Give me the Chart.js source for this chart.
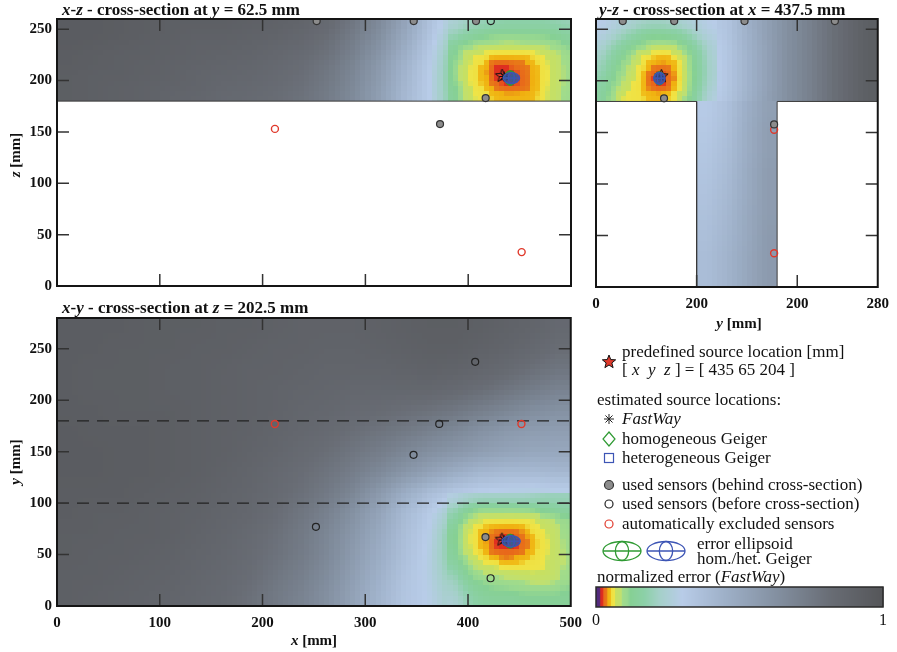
<!DOCTYPE html>
<html lang="en">
<head>
  <meta charset="UTF-8" />
  <title>Cross-sections of the localisation error</title>
  <script src="https://cdn.jsdelivr.net/npm/chart.js"></script>
  <style>
    body { margin: 0; background: #fff; }
    #wrap { position: relative; width: 897px; height: 652px; overflow: hidden;
            font-family: "Liberation Serif", "DejaVu Serif", serif; color: #111; }
    #wrap canvas { position: absolute; }
    .txt { position: absolute; white-space: nowrap; line-height: 16px; font-size: 17px; }
    .ttl { font-weight: bold; font-size: 17px; }
    .ax { font-weight: bold; font-size: 15px; transform: translate(-50%, -50%); }
    .axr { font-weight: bold; font-size: 15px; transform: translate(-50%, -50%) rotate(-90deg); }
  </style>
</head>
<body>
<div id="wrap">
  <canvas id="xzChart" width="590" height="300" style="left:0;top:0"></canvas>
  <canvas id="yzChart" width="317" height="345" style="left:580px;top:0"></canvas>
  <canvas id="xyChart" width="590" height="352" style="left:0;top:300px"></canvas>
  <canvas id="barChart" width="317" height="82" style="left:580px;top:570px"></canvas>
  <canvas id="legendCanvas" width="317" height="240" style="left:580px;top:330px"></canvas>

  <div class="txt ttl" style="left:62px;top:2px"><i>x</i>-<i>z</i> - cross-section at <i>y</i> = 62.5 mm</div>
  <div class="txt ttl" style="left:599px;top:2px"><i>y</i>-<i>z</i> - cross-section at <i>x</i> = 437.5 mm</div>
  <div class="txt ttl" style="left:62px;top:300px"><i>x</i>-<i>y</i> - cross-section at <i>z</i> = 202.5 mm</div>

  <div class="txt ax" style="left:314px;top:640px"><i>x</i> [mm]</div>
  <div class="txt ax" style="left:739px;top:323px"><i>y</i> [mm]</div>
  <div class="txt axr" style="left:15px;top:155px"><i>z</i> [mm]</div>
  <div class="txt axr" style="left:15px;top:462px"><i>y</i> [mm]</div>

  <div class="txt" style="left:622px;top:344px">predefined source location [mm]</div>
  <div class="txt" style="left:622px;top:362px">[ <i>x</i>&nbsp; <i>y</i>&nbsp; <i>z</i> ] = [ 435 65 204 ]</div>
  <div class="txt" style="left:597px;top:392px">estimated source locations:</div>
  <div class="txt" style="left:622px;top:411px"><i>FastWay</i></div>
  <div class="txt" style="left:622px;top:431px">homogeneous Geiger</div>
  <div class="txt" style="left:622px;top:450px">heterogeneous Geiger</div>
  <div class="txt" style="left:622px;top:477px">used sensors (behind cross-section)</div>
  <div class="txt" style="left:622px;top:496px">used sensors (before cross-section)</div>
  <div class="txt" style="left:622px;top:516px">automatically excluded sensors</div>
  <div class="txt" style="left:697px;top:536px">error ellipsoid</div>
  <div class="txt" style="left:697px;top:551px">hom./het. Geiger</div>
  <div class="txt" style="left:597px;top:569px">normalized error (<i>FastWay</i>)</div>
</div>

<script>
  const SERIF = '"Liberation Serif", "DejaVu Serif", serif';
  const TICK = 12;

  // ---- axes ----
  const xTicks = [0, 100, 200, 300, 400, 500];
  const zTicks = [0, 50, 100, 150, 200, 250];
  const yTicksXY = [0, 50, 100, 150, 200, 250];
  const yTicksYZ = [0, 100, 200, 280];
  const yTickLabelsYZ = ["0", "200", "200", "280"];
  const barTicks = [0, 1];

  // ---- normalized error colour map ----
  const cmapStops = [0, 0.014, 0.016, 0.024, 0.027, 0.038, 0.041, 0.051, 0.054, 0.065, 0.068, 0.088,
                     0.092, 0.11, 0.12, 0.17, 0.22, 0.3, 0.45, 0.65, 0.82, 1];
  const cmapColors = ["#4a2a80", "#5a2a7a", "#d42a20", "#e03020", "#e8681a", "#e87c18", "#f0b010", "#f0bc18",
                      "#f0e040", "#eee448", "#c8e060", "#c0e070", "#a2dc8a", "#98d890", "#86d094", "#8cd0a8",
                      "#a4d0c8", "#b8cce8", "#9eb0c8", "#808c9c", "#686c74", "#555659"];

  // ---- error grids (cell centres in mm) ----
  const xCenters = [12.5, 37.5, 62.5, 87.5, 112.5, 137.5, 162.5, 187.5, 212.5, 237.5,
                    262.5, 287.5, 312.5, 337.5, 362.5, 387.5, 412.5, 437.5, 462.5, 487.5];
  const zCentersTop = [255, 245, 235, 225, 215, 205, 195, 185];
  const yCentersXY = [270, 250, 230, 210, 190, 170, 150, 130, 110, 90, 70, 50, 30, 10];
  const yCentersYZ = [10, 30, 50, 70, 90, 110, 130, 150, 170, 190, 210, 230, 250, 270];
  const yCentersStem = [110, 130, 150, 170];
  const zCentersStem = [170, 150, 130, 110, 90, 70, 50, 30, 10];
  // finer 10 mm grids around the source
  const xCentersHot = [385, 395, 405, 415, 425, 435, 445, 455, 465, 475, 485, 495];
  const yCentersHotXY = [105, 95, 85, 75, 65, 55, 45, 35, 25, 15, 5];
  const yCentersHotYZ = [5, 15, 25, 35, 45, 55, 65, 75, 85, 95, 105, 115];

  // x-z plane at y = 62.5 (rows: z from top)
  const xzError = [
    [.95, .95, .94, .93, .92, .92, .92, .91, .90, .88, .84, .76, .66, .52, .36, .22, .20, .16, .17, .19],
    [.95, .95, .94, .93, .92, .91, .91, .90, .89, .86, .82, .74, .64, .50, .35, .18, .16, .12, .13, .16],
    [.95, .94, .93, .92, .91, .90, .90, .89, .87, .85, .80, .72, .62, .48, .33, .15, .12, .08, .095, .13],
    [.94, .93, .92, .92, .91, .90, .89, .88, .86, .83, .79, .71, .60, .46, .32, .13, .085, .055, .07, .11],
    [.94, .93, .92, .91, .90, .89, .88, .87, .85, .82, .77, .69, .58, .44, .31, .12, .06, .03, .048, .09],
    [.93, .92, .92, .91, .90, .88, .87, .86, .84, .81, .76, .68, .57, .43, .30, .12, .05, .02, .042, .08],
    [.93, .92, .91, .90, .89, .88, .86, .85, .83, .80, .75, .67, .56, .42, .30, .12, .05, .025, .045, .085],
    [.93, .92, .91, .90, .88, .87, .85, .84, .82, .79, .74, .66, .55, .41, .30, .13, .07, .05, .065, .10]
  ];
  const xzErrorHot = [
    [.25, .22, .20, .19, .18, .17, .17, .17, .17, .17, .18, .19],
    [.20, .17, .15, .13, .12, .12, .12, .12, .12, .12, .13, .15],
    [.15, .11, .10, .09, .085, .08, .08, .085, .088, .095, .10, .12],
    [.13, .085, .066, .06, .05, .048, .048, .05, .058, .065, .08, .10],
    [.12, .078, .062, .048, .024, .022, .03, .035, .048, .062, .078, .095],
    [.12, .075, .06, .045, .022, .02, .022, .03, .045, .06, .075, .095],
    [.13, .08, .062, .05, .035, .025, .025, .03, .045, .062, .078, .095],
    [.14, .09, .068, .06, .05, .045, .045, .045, .05, .063, .08, .10]
  ];

  // x-y plane at z = 202.5 (rows: y from top)
  const xyError = [
    [.94, .94, .94, .93, .93, .93, .92, .92, .91, .90, .90, .90, .91, .92, .93, .93, .92, .90, .88, .85],
    [.94, .94, .93, .93, .93, .92, .92, .91, .90, .90, .89, .89, .90, .91, .92, .92, .90, .88, .85, .82],
    [.94, .93, .93, .93, .92, .92, .91, .90, .90, .89, .88, .88, .88, .89, .90, .89, .87, .84, .80, .77],
    [.94, .93, .93, .93, .92, .92, .91, .90, .89, .88, .87, .86, .86, .86, .86, .84, .81, .77, .73, .70],
    [.94, .94, .93, .93, .93, .92, .91, .90, .89, .87, .86, .84, .83, .81, .79, .76, .72, .68, .64, .62],
    [.95, .94, .94, .94, .93, .92, .91, .90, .88, .86, .84, .81, .78, .75, .71, .67, .62, .58, .56, .55],
    [.95, .95, .94, .94, .93, .92, .91, .89, .87, .84, .81, .77, .73, .68, .63, .59, .55, .52, .50, .50],
    [.95, .95, .94, .94, .93, .92, .90, .88, .85, .82, .78, .73, .67, .60, .53, .47, .42, .40, .40, .41],
    [.94, .94, .94, .93, .92, .91, .89, .87, .84, .80, .75, .68, .58, .47, .38, .32, .29, .28, .27, .28],
    [.94, .93, .93, .92, .91, .90, .88, .86, .82, .77, .71, .62, .52, .40, .31, .20, .15, .12, .12, .14],
    [.93, .93, .92, .92, .91, .89, .87, .84, .80, .75, .68, .59, .49, .38, .29, .14, .10, .06, .08, .10],
    [.93, .92, .92, .91, .90, .88, .86, .83, .79, .74, .67, .57, .47, .37, .28, .14, .10, .06, .08, .10],
    [.92, .92, .91, .90, .89, .87, .85, .82, .77, .72, .65, .55, .45, .35, .28, .17, .13, .10, .10, .12],
    [.92, .91, .90, .89, .88, .86, .84, .80, .75, .70, .63, .53, .43, .34, .29, .21, .16, .14, .13, .14]
  ];
  const xyErrorHot = [
    [.28, .25, .23, .22, .22, .22, .22, .22, .21, .20, .20, .20],
    [.21, .16, .13, .12, .12, .12, .12, .12, .13, .14, .15, .16],
    [.17, .11, .08, .07, .065, .062, .062, .065, .07, .08, .095, .11],
    [.14, .09, .06, .048, .04, .035, .035, .045, .06, .068, .08, .10],
    [.13, .08, .06, .045, .025, .02, .02, .033, .05, .062, .078, .095],
    [.14, .085, .062, .046, .026, .022, .022, .034, .05, .062, .075, .095],
    [.15, .11, .075, .06, .05, .042, .045, .05, .058, .065, .078, .09],
    [.18, .13, .10, .08, .075, .07, .065, .063, .063, .067, .08, .095],
    [.21, .16, .12, .11, .10, .095, .09, .085, .08, .08, .085, .10],
    [.23, .19, .15, .13, .12, .12, .115, .11, .11, .11, .11, .12],
    [.25, .21, .17, .15, .14, .14, .14, .13, .13, .13, .13, .13]
  ];

  // y-z plane at x = 437.5, top slab (rows: z from top)
  const yzErrorTop = [
    [.26, .22, .20, .20, .24, .31, .34, .45, .54, .63, .70, .78, .86, .93],
    [.22, .17, .15, .15, .20, .29, .34, .44, .54, .63, .70, .78, .86, .93],
    [.19, .13, .09, .09, .15, .27, .33, .44, .53, .63, .70, .78, .86, .93],
    [.16, .11, .055, .055, .12, .26, .33, .43, .53, .63, .70, .78, .86, .93],
    [.14, .09, .035, .03, .10, .25, .33, .43, .53, .63, .70, .78, .86, .93],
    [.13, .084, .03, .025, .09, .24, .33, .43, .53, .63, .70, .78, .86, .93],
    [.13, .08, .035, .035, .10, .25, .33, .43, .53, .63, .70, .78, .86, .93],
    [.13, .08, .05, .06, .12, .27, .34, .44, .54, .63, .70, .78, .86, .93]
  ];
  const yzErrorHot = [
    [.30, .28, .26, .24, .22, .21, .21, .22, .24, .26, .28, .30],
    [.28, .25, .21, .18, .15, .13, .13, .14, .16, .20, .25, .28],
    [.25, .20, .16, .13, .11, .095, .085, .09, .11, .15, .20, .26],
    [.22, .17, .13, .10, .07, .058, .05, .055, .075, .12, .18, .25],
    [.20, .15, .11, .085, .06, .042, .035, .04, .065, .11, .17, .24],
    [.18, .13, .10, .075, .055, .025, .02, .03, .06, .10, .17, .24],
    [.16, .12, .085, .065, .05, .03, .022, .035, .065, .11, .18, .25],
    [.15, .10, .068, .06, .055, .048, .045, .055, .08, .13, .20, .27]
  ];
  // y-z plane, web below the slab (rows: z from top)
  const yzErrorStem = [
    [.31, .36, .46, .54], [.32, .37, .47, .55], [.33, .38, .47, .55],
    [.34, .39, .48, .56], [.35, .40, .48, .56], [.36, .41, .49, .56],
    [.37, .42, .49, .57], [.38, .43, .50, .57], [.38, .43, .50, .57]
  ];

  // ---- specimen outline and web limits ----
  const xzSlabEdge = [[0, 180], [500, 180]];
  const yzOutlineLeft = [[0, 180], [100, 180], [100, 0]];
  const yzOutlineRight = [[180, 0], [180, 180], [280, 180]];
  const xyWebEdgeLow = [[0, 100], [500, 100]];
  const xyWebEdgeHigh = [[0, 180], [500, 180]];

  // ---- sensors, projected on each plane ----
  const xzBehind = [[252.6, 258], [347, 258], [407.6, 258], [417, 183], [372.6, 157.7]];
  const xzBefore = [[422, 258]];
  const xzExcluded = [[212, 153], [452, 33]];
  const yzBehind = [[26.6, 258], [77.7, 258], [147.6, 258], [237.4, 258], [67.6, 183], [177, 157.7]];
  const yzBefore = [];
  const yzExcluded = [[177, 152.6], [177, 32.8]];
  const xyBehind = [[417, 67]];
  const xyBefore = [[407, 237.4], [372, 177], [347, 147], [252, 77], [422, 27]];
  const xyExcluded = [[212, 177], [452, 177]];

  // ---- source locations [x, y, z] ----
  const srcTrue = [433, 65, 205];
  const srcFastWay = [435, 64, 204];
  const srcHom = [441, 63, 202.5];
  const srcHet = [442, 63, 202.5];
  // error ellipses per plane: [semi-axis horizontal, semi-axis vertical]
  const ellHomXZ = [5.5, 7], ellHetXZ = [8, 5.3];
  const ellHomYZ = [5, 6.3], ellHetYZ = [5.6, 5.6];
  const ellHomXY = [5.5, 6.5], ellHetXY = [8.8, 5.5];

  const GREEN = "#2f9a33", BLUE = "#3d55b5", RED = "#e0392b";

  // ---------------------------------------------------------------
  const cmapRgb = cmapColors.map(h => [1, 3, 5].map(i => parseInt(h.slice(i, i + 2), 16)));
  function errColor(t) {
    t = Math.max(0, Math.min(1, t));
    let i = 0;
    while (i < cmapStops.length - 2 && t > cmapStops[i + 1]) i++;
    const f = (t - cmapStops[i]) / (cmapStops[i + 1] - cmapStops[i]);
    const a = cmapRgb[i], b = cmapRgb[i + 1];
    return [0, 1, 2].map(k => Math.round(a[k] + (b[k] - a[k]) * f));
  }

  function locate(c, v) {
    const n = c.length, asc = c[n - 1] > c[0];
    if (asc ? v <= c[0] : v >= c[0]) return [0, 0];
    if (asc ? v >= c[n - 1] : v <= c[n - 1]) return [n - 2, 1];
    for (let i = 0; i < n - 1; i++) {
      if ((v - c[i]) * (v - c[i + 1]) <= 0) return [i, (v - c[i]) / (c[i + 1] - c[i])];
    }
    return [n - 2, 1];
  }

  // paints the error grids as 5 mm cells placed through the chart scales
  function heatPlugin(layers) {
    return {
      id: "heat",
      beforeDatasetsDraw(chart) {
        const { ctx, chartArea: a, scales: { x, y } } = chart;
        ctx.save();
        ctx.beginPath();
        ctx.rect(a.left, a.top, a.right - a.left, a.bottom - a.top);
        ctx.clip();
        layers.forEach(L => {
          const nx = Math.round((L.x1 - L.x0) / L.step), ny = Math.round((L.y1 - L.y0) / L.step);
          const off = document.createElement("canvas");
          off.width = nx; off.height = ny;
          const octx = off.getContext("2d");
          const img = octx.createImageData(nx, ny);
          const g = L.grid;
          for (let j = 0; j < ny; j++) {
            for (let i = 0; i < nx; i++) {
              const [ci, fx] = locate(L.xc, L.x0 + (i + 0.5) * L.step);
              const [rj, fy] = locate(L.yc, L.y1 - (j + 0.5) * L.step);
              const v = (1 - fy) * ((1 - fx) * g[rj][ci] + fx * g[rj][ci + 1]) +
                        fy * ((1 - fx) * g[rj + 1][ci] + fx * g[rj + 1][ci + 1]);
              const c = errColor(v), k = 4 * (j * nx + i);
              img.data[k] = c[0]; img.data[k + 1] = c[1]; img.data[k + 2] = c[2]; img.data[k + 3] = 255;
            }
          }
          octx.putImageData(img, 0, 0);
          const px0 = x.getPixelForValue(L.x0), px1 = x.getPixelForValue(L.x1);
          const py0 = y.getPixelForValue(L.y1), py1 = y.getPixelForValue(L.y0);
          ctx.imageSmoothingEnabled = false;
          ctx.drawImage(off, px0, py0, px1 - px0, py1 - py0);
        });
        ctx.restore();
      }
    };
  }

  function drawEllipsoid(ctx, cx, cy, rx, ry, color, fill) {
    ctx.save();
    ctx.strokeStyle = color;
    ctx.lineWidth = 1.3;
    ctx.beginPath();
    ctx.ellipse(cx, cy, rx, ry, 0, 0, 2 * Math.PI);
    if (fill) { ctx.fillStyle = fill; ctx.fill(); }
    ctx.stroke();
    ctx.beginPath();
    ctx.ellipse(cx, cy, rx * 0.35, ry, 0, 0, 2 * Math.PI);
    ctx.stroke();
    ctx.beginPath();
    ctx.moveTo(cx - rx, cy); ctx.lineTo(cx + rx, cy);
    ctx.stroke();
    ctx.restore();
  }

  function ellipsePlugin(list) {
    return {
      id: "ellipses",
      afterDatasetsDraw(chart) {
        const { ctx, scales: { x, y } } = chart;
        list.forEach(e => {
          const cx = x.getPixelForValue(e.c[0]), cy = y.getPixelForValue(e.c[1]);
          const rx = Math.abs(x.getPixelForValue(e.c[0] + e.r[0]) - cx);
          const ry = Math.abs(y.getPixelForValue(e.c[1] + e.r[1]) - cy);
          drawEllipsoid(ctx, cx, cy, rx, ry, e.color, e.fill);
        });
      }
    };
  }

  // box frame with inward ticks on all four sides
  function framePlugin(xt, yt, lw) {
    return {
      id: "frame",
      afterDatasetsDraw(chart) {
        const { ctx, chartArea: a, scales: { x, y } } = chart;
        ctx.save();
        ctx.strokeStyle = "#333";
        ctx.lineWidth = 1.5;
        ctx.beginPath();
        if (xt) xt.forEach(v => {
          if (v <= x.min || v >= x.max) return;
          const p = x.getPixelForValue(v);
          ctx.moveTo(p, a.bottom); ctx.lineTo(p, a.bottom - TICK);
          ctx.moveTo(p, a.top); ctx.lineTo(p, a.top + TICK);
        });
        if (yt) yt.forEach(v => {
          if (v <= y.min || v >= y.max) return;
          const p = y.getPixelForValue(v);
          ctx.moveTo(a.left, p); ctx.lineTo(a.left + TICK, p);
          ctx.moveTo(a.right, p); ctx.lineTo(a.right - TICK, p);
        });
        ctx.stroke();
        ctx.strokeStyle = "#151515";
        ctx.lineWidth = lw || 2;
        ctx.strokeRect(a.left, a.top, a.right - a.left, a.bottom - a.top);
        ctx.restore();
      }
    };
  }

  function starPath(g, cx, cy, r, ri) {
    g.beginPath();
    for (let i = 0; i < 10; i++) {
      const ang = -Math.PI / 2 + i * Math.PI / 5, rr = i % 2 ? ri : r;
      g.lineTo(cx + rr * Math.cos(ang), cy + rr * Math.sin(ang));
    }
    g.closePath();
  }
  const starImg = document.createElement("canvas");
  starImg.width = starImg.height = 17;
  (() => {
    const g = starImg.getContext("2d");
    starPath(g, 8.5, 9, 7, 3);
    g.fillStyle = RED; g.fill();
    g.strokeStyle = "#111"; g.lineWidth = 1; g.stroke();
  })();

  const pts = arr => arr.map(p => ({ x: p[0], y: p[1] }));
  const AX = { x: 0, y: 1, z: 2 };

  function lineSet(arr, dash) {
    return { data: pts(arr), showLine: true, pointRadius: 0, borderColor: dash ? "#222" : "#3a3a3a",
             borderWidth: dash ? 1.2 : 1, borderDash: dash ? [12, 8] : [], order: 6 };
  }
  function sensorSets(behind, before, excluded) {
    return [
      { data: pts(behind), pointRadius: 3.5, pointBackgroundColor: "#8c8c8c", pointBorderColor: "#333", pointBorderWidth: 1.2, order: 4 },
      { data: pts(before), pointRadius: 3.5, pointBackgroundColor: "rgba(0,0,0,0)", pointBorderColor: "#222", pointBorderWidth: 1.2, order: 4 },
      { data: pts(excluded), pointRadius: 3.5, pointBackgroundColor: "rgba(0,0,0,0)", pointBorderColor: RED, pointBorderWidth: 1.4, order: 4 }
    ];
  }
  function sourceSets(h, v) {
    const p = s => [{ x: s[AX[h]], y: s[AX[v]] }];
    return [
      { data: p(srcTrue), pointStyle: starImg, pointRadius: 6, order: 3 },
      { data: p(srcFastWay), pointStyle: "star", pointRadius: 5, pointBorderColor: "#111", pointBorderWidth: 1.2, order: 2 },
      { data: p(srcHom), pointStyle: "rectRot", pointRadius: 3, pointBackgroundColor: "rgba(0,0,0,0)", pointBorderColor: GREEN, pointBorderWidth: 1, order: 2 },
      { data: p(srcHet), pointStyle: "rect", pointRadius: 3, pointBackgroundColor: "rgba(0,0,0,0)", pointBorderColor: BLUE, pointBorderWidth: 1, order: 2 }
    ];
  }
  function ellipses(h, v, hom, het) {
    return [
      { c: [srcHom[AX[h]], srcHom[AX[v]]], r: hom, color: GREEN },
      { c: [srcHet[AX[h]], srcHet[AX[v]]], r: het, color: BLUE, fill: "rgba(55,80,170,0.75)" }
    ];
  }

  function panelChart(id, o) {
    const tickFont = { family: SERIF, size: 15, weight: "bold" };
    return new Chart(document.getElementById(id), {
      type: "scatter",
      data: { datasets: o.datasets },
      options: {
        responsive: false,
        animation: false,
        devicePixelRatio: 1,
        layout: { padding: o.padding },
        plugins: { legend: { display: false }, tooltip: { enabled: false } },
        scales: {
          x: {
            type: "linear", min: o.xr[0], max: o.xr[1],
            afterBuildTicks: s => { s.ticks = o.xt.map(v => ({ value: v })); },
            afterFit: s => { s.height = o.xh; },
            grid: { display: false, drawTicks: false }, border: { display: false },
            ticks: { display: o.xLabels !== false, padding: o.xPad || 8, color: "#111", font: o.xFont || tickFont,
                     autoSkip: false, maxRotation: 0, callback: o.xcb || (v => v) }
          },
          y: {
            type: "linear", min: o.yr[0], max: o.yr[1], display: o.yDisplay !== false,
            afterBuildTicks: s => { s.ticks = (o.yt || []).map(v => ({ value: v })); },
            afterFit: s => { s.width = o.yw; },
            grid: { display: false, drawTicks: false }, border: { display: false },
            ticks: { display: o.yLabels !== false, padding: 5, color: "#111", font: tickFont, autoSkip: false }
          }
        }
      },
      plugins: [heatPlugin(o.layers || []), ellipsePlugin(o.ell || []), o.frame || framePlugin(o.xt, o.yt)]
    });
  }

  // x-z cross-section
  panelChart("xzChart", {
    padding: { left: 0, top: 19, right: 19, bottom: 0 },
    xr: [0, 500], yr: [0, 260], xt: xTicks, yt: zTicks, xh: 13, yw: 57, xLabels: false,
    layers: [
      { grid: xzError, xc: xCenters, yc: zCentersTop, x0: 0, x1: 500, y0: 180, y1: 260, step: 5 },
      { grid: xzErrorHot, xc: xCentersHot, yc: zCentersTop, x0: 380, x1: 500, y0: 180, y1: 260, step: 5 }
    ],
    ell: ellipses("x", "z", ellHomXZ, ellHetXZ),
    datasets: [...sourceSets("x", "z"), ...sensorSets(xzBehind, xzBefore, xzExcluded), lineSet(xzSlabEdge)]
  });

  // y-z cross-section
  panelChart("yzChart", {
    padding: { left: 0, top: 19, right: 14, bottom: 0 },
    xr: [0, 280], yr: [0, 260], xt: yTicksYZ, yt: zTicks, xh: 58, yw: 16, yLabels: false,
    xcb: (v, i) => yTickLabelsYZ[i],
    layers: [
      { grid: yzErrorTop, xc: yCentersYZ, yc: zCentersTop, x0: 0, x1: 280, y0: 180, y1: 260, step: 5 },
      { grid: yzErrorHot, xc: yCentersHotYZ, yc: zCentersTop, x0: 0, x1: 120, y0: 180, y1: 260, step: 5 },
      { grid: yzErrorStem, xc: yCentersStem, yc: zCentersStem, x0: 100, x1: 180, y0: 0, y1: 180, step: 5 }
    ],
    ell: ellipses("y", "z", ellHomYZ, ellHetYZ),
    datasets: [...sourceSets("y", "z"), ...sensorSets(yzBehind, yzBefore, yzExcluded),
               lineSet(yzOutlineLeft), lineSet(yzOutlineRight)]
  });

  // x-y cross-section
  panelChart("xyChart", {
    padding: { left: 0, top: 18, right: 19, bottom: 0 },
    xr: [0, 500], yr: [0, 280], xt: xTicks, yt: yTicksXY, xh: 46, yw: 57,
    layers: [
      { grid: xyError, xc: xCenters, yc: yCentersXY, x0: 0, x1: 500, y0: 0, y1: 280, step: 5 },
      { grid: xyErrorHot, xc: xCentersHot, yc: yCentersHotXY, x0: 380, x1: 500, y0: 0, y1: 110, step: 5 }
    ],
    ell: ellipses("x", "y", ellHomXY, ellHetXY),
    datasets: [...sourceSets("x", "y"), ...sensorSets(xyBehind, xyBefore, xyExcluded),
               lineSet(xyWebEdgeLow, true), lineSet(xyWebEdgeHigh, true)]
  });

  // colour bar
  function drawBar(chart) {
    const { ctx, chartArea: a, scales: { x } } = chart;
    const n = 287;
    for (let i = 0; i < n; i++) {
      const c = errColor((i + 0.5) / n);
      const p0 = x.getPixelForValue(i / n), p1 = x.getPixelForValue((i + 1) / n);
      ctx.fillStyle = `rgb(${c[0]},${c[1]},${c[2]})`;
      ctx.fillRect(p0, a.top, p1 - p0 + 0.5, a.bottom - a.top);
    }
  }
  panelChart("barChart", {
    padding: { left: 16, top: 17, right: 14, bottom: 0 },
    xr: [0, 1], yr: [0, 1], xt: barTicks, yt: [], xh: 45, yw: 0, yDisplay: false, xPad: 4,
    xFont: { family: SERIF, size: 16 },
    frame: { id: "barFrame", beforeDatasetsDraw: drawBar,
             afterDatasetsDraw(chart) {
               const { ctx, chartArea: a } = chart;
               ctx.save(); ctx.strokeStyle = "#2a2a2a"; ctx.lineWidth = 1.5;
               ctx.strokeRect(a.left, a.top, a.right - a.left, a.bottom - a.top); ctx.restore();
             } },
    datasets: []
  });

  // legend symbols
  (() => {
    const g = document.getElementById("legendCanvas").getContext("2d");
    g.translate(-580, -330);
    starPath(g, 609, 362, 7, 3);
    g.fillStyle = RED; g.fill(); g.strokeStyle = "#111"; g.lineWidth = 1; g.stroke();

    g.strokeStyle = "#222"; g.lineWidth = 1;
    g.beginPath();
    for (let i = 0; i < 4; i++) {
      const ang = i * Math.PI / 4;
      g.moveTo(609 - 5 * Math.cos(ang), 419 - 5 * Math.sin(ang));
      g.lineTo(609 + 5 * Math.cos(ang), 419 + 5 * Math.sin(ang));
    }
    g.stroke();

    g.strokeStyle = GREEN; g.lineWidth = 1.2;
    g.beginPath(); g.moveTo(609, 432); g.lineTo(615, 439); g.lineTo(609, 446); g.lineTo(603, 439); g.closePath(); g.stroke();

    g.strokeStyle = BLUE;
    g.strokeRect(604.5, 453.5, 9, 9);

    g.beginPath(); g.arc(609, 485, 4.5, 0, 2 * Math.PI);
    g.fillStyle = "#8c8c8c"; g.fill(); g.strokeStyle = "#333"; g.stroke();

    g.beginPath(); g.arc(609, 504, 4, 0, 2 * Math.PI); g.strokeStyle = "#222"; g.stroke();
    g.beginPath(); g.arc(609, 524, 4, 0, 2 * Math.PI); g.strokeStyle = RED; g.stroke();

    drawEllipsoid(g, 622, 551, 19, 9.5, GREEN);
    drawEllipsoid(g, 666, 551, 19, 9.5, BLUE);
  })();
</script>
</body>
</html>
